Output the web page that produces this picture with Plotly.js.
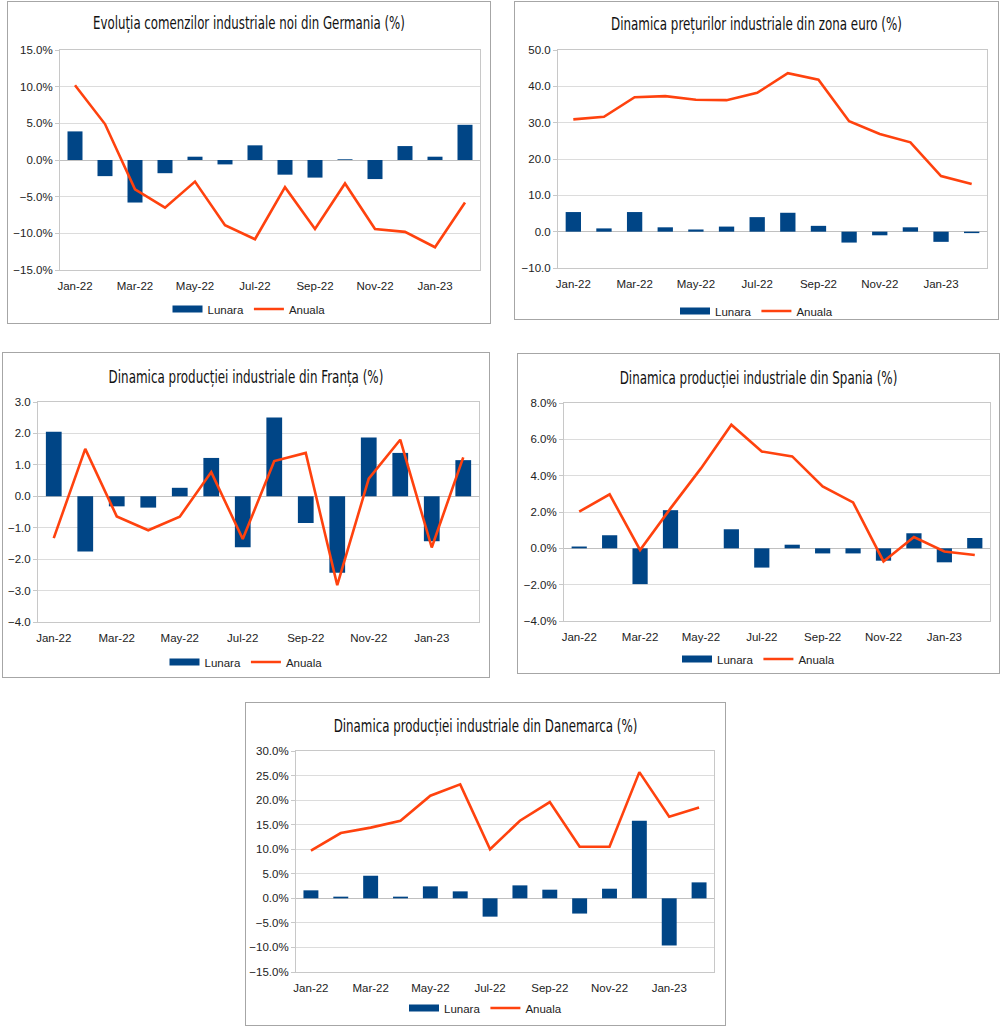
<!DOCTYPE html>
<html>
<head>
<meta charset="utf-8">
<script src="https://cdn.plot.ly/plotly-3.0.1.min.js"></script>
<style>
  html, body { margin:0; padding:0; background:#ffffff; }
  body { width:1000px; height:1026px; position:relative; overflow:hidden; }
  .box { position:absolute; box-sizing:border-box; border:1px solid #a6a6a6; background:#fff; }
  .plot { position:absolute; left:0; top:0; }
</style>
</head>
<body>
<div id="b1" class="box"><div id="p1" class="plot"></div></div>
<div id="b2" class="box"><div id="p2" class="plot"></div></div>
<div id="b3" class="box"><div id="p3" class="plot"></div></div>
<div id="b4" class="box"><div id="p4" class="plot"></div></div>
<div id="b5" class="box"><div id="p5" class="plot"></div></div>
<script>
// ---------- DATA ----------
var months = ["Jan-22","Feb-22","Mar-22","Apr-22","May-22","Jun-22","Jul-22","Aug-22","Sep-22","Oct-22","Nov-22","Dec-22","Jan-23","Feb-23"];
var tickMonths = ["Jan-22","Mar-22","May-22","Jul-22","Sep-22","Nov-22","Jan-23"];
var seriesNames = ["Lunara","Anuala"];

var titleGermany = "Evoluția comenzilor industriale noi din Germania (%)";
var germanyLunara = [3.9,-2.2,-5.8,-1.8,0.45,-0.6,2.0,-2.0,-2.4,0.1,-2.6,1.9,0.45,4.8];
var germanyAnuala = [10.2,4.9,-4.0,-6.5,-2.95,-8.9,-10.8,-3.7,-9.4,-3.2,-9.4,-9.8,-11.9,-5.8];

var titleEuro = "Dinamica prețurilor industriale din zona euro (%)";
var euroLunara = [5.4,0.9,5.4,1.2,0.6,1.4,4.0,5.2,1.6,-3.0,-1.0,1.2,-2.8,-0.4];
var euroAnuala = [30.9,31.6,37.0,37.3,36.3,36.2,38.2,43.6,41.8,30.4,26.9,24.6,15.3,13.1];

var titleFrance = "Dinamica producției industriale din Franța (%)";
var franceLunara = [2.05,-1.76,-0.32,-0.36,0.27,1.22,-1.62,2.51,-0.85,-2.43,1.87,1.38,-1.43,1.15];
var franceAnuala = [-1.33,1.51,-0.64,-1.08,-0.65,0.77,-1.36,1.12,1.38,-2.83,0.56,1.80,-1.63,1.24];

var titleSpain = "Dinamica producției industriale din Spania (%)";
var spainLunara = [0.1,0.72,-1.97,2.1,0.0,1.05,-1.06,0.2,-0.28,-0.28,-0.68,0.83,-0.77,0.57];
var spainAnuala = [2.02,2.97,-0.09,2.2,4.4,6.8,5.33,5.06,3.41,2.53,-0.72,0.62,-0.17,-0.37];

var titleDenmark = "Dinamica producției industriale din Danemarca (%)";
var denmarkLunara = [1.63,0.34,4.6,0.34,2.44,1.42,-3.73,2.64,1.76,-3.1,1.96,15.8,-9.6,3.25];
var denmarkAnuala = [9.7,13.3,14.4,15.8,20.9,23.2,10.0,15.8,19.6,10.5,10.5,25.7,16.6,18.5];

// ---------- STYLE ----------
var BLUE = "#004586", ORANGE = "#ff420e";
var TITLE_FONT = "'Liberation Sans Narrow','DejaVu Sans Condensed','Roboto Condensed','Arial Narrow','Liberation Sans',sans-serif";
var TICK_FONT = "'Liberation Sans', Arial, sans-serif";

function placeBox(id, left, top, w, h) {
  var b = document.getElementById(id);
  b.style.left = left + "px"; b.style.top = top + "px";
  b.style.width = w + "px"; b.style.height = h + "px";
}

function drawChart(cfg) {
  placeBox(cfg.box, cfg.left, cfg.top, cfg.w, cfg.h);
  var traces = [
    { type:"bar", x: months, y: cfg.lunara, name: seriesNames[0], marker:{color:BLUE}, showlegend:false, hoverinfo:"skip" },
    { type:"scatter", mode:"lines", x:[null], y:[null], name: seriesNames[0], line:{color:BLUE, width:7}, showlegend:true, hoverinfo:"skip" },
    { type:"scatter", mode:"lines", x: months, y: cfg.anuala, name: seriesNames[1], line:{color:ORANGE, width:2.6}, showlegend:true, hoverinfo:"skip" }
  ];
  var layout = {
    width: cfg.w - 2, height: cfg.h - 2,
    margin: { l: cfg.ml, r: cfg.mr, t: cfg.mt, b: cfg.mb, pad: 0 },
    paper_bgcolor: "#ffffff", plot_bgcolor: "#ffffff",
    bargap: 0.5,
    title: { text: cfg.title, x: 0.5, xref: "container", xanchor: "center",
             y: 1 - cfg.titleY / (cfg.h - 2), yref: "container", yanchor: "middle",
             font: { family: TITLE_FONT, size: 17, color: "#111" } },
    showlegend: true,
    legend: { orientation: "h", x: 0.5, xref: "container", xanchor: "center",
              y: 1 - cfg.legendY / (cfg.h - 2), yref: "container", yanchor: "middle",
              font: { family: TICK_FONT, size: 11.5, color: "#222" },
              itemwidth: 30, tracegroupgap: 0, traceorder: "normal", bgcolor: "rgba(0,0,0,0)" },
    xaxis: { type: "category", categoryorder: "array", categoryarray: months,
             range: [-0.5, months.length - 0.5],
             tickmode: "array", tickvals: tickMonths, ticktext: tickMonths,
             ticks: "outside", ticklen: 5, tickcolor: "rgba(0,0,0,0)",
             showgrid: false, showline: true, mirror: true, linecolor: "#c8c8c8", linewidth: 1,
             tickfont: { family: TICK_FONT, size: 11.5, color: "#222" }, fixedrange: true },
    yaxis: { range: cfg.range, dtick: cfg.dtick, tick0: 0, tickformat: ".1f", ticksuffix: cfg.suffix,
             ticks: "outside", ticklen: 4, tickcolor: "#c8c8c8",
             showgrid: true, gridcolor: "#dcdcdc", gridwidth: 1,
             zeroline: true, zerolinecolor: "#c0c0c0", zerolinewidth: 1,
             showline: true, mirror: true, linecolor: "#c8c8c8", linewidth: 1,
             tickfont: { family: TICK_FONT, size: 11.5, color: "#222" }, fixedrange: true }
  };
  Plotly.newPlot(cfg.plot, traces, layout, { staticPlot: true, displayModeBar: false }).then(function (gd) {
    // condense the title horizontally to the narrow width of the original heading
    var t = gd.querySelector(".gtitle");
    if (t) {
      var natural = t.getComputedTextLength();
      if (natural > cfg.titleW) {
        var s = cfg.titleW / natural;
        var cx = parseFloat(t.getAttribute("x")) || 0;
        var prev = t.getAttribute("transform") || "";
        t.setAttribute("transform", "translate(" + cx + ",0) scale(" + s + ",1) translate(" + (-cx) + ",0) " + prev);
      }
    }
  });
}

drawChart({ box:"b1", plot:"p1", left:7, top:1, w:484, h:323, ml:52, mr:10, mt:48, mb:53,
  title:titleGermany, titleY:21, titleW:312, legendY:307, lunara:germanyLunara, anuala:germanyAnuala,
  range:[-15,15], dtick:5, suffix:"%" });
drawChart({ box:"b2", plot:"p2", left:514, top:1, w:485, h:319, ml:43, mr:11, mt:48, mb:51,
  title:titleEuro, titleY:22, titleW:291, legendY:309, lunara:euroLunara, anuala:euroAnuala,
  range:[-10,50], dtick:10, suffix:"" });
drawChart({ box:"b3", plot:"p3", left:2, top:352, w:488, h:326, ml:35, mr:10, mt:49, mb:55,
  title:titleFrance, titleY:24, titleW:275, legendY:309, lunara:franceLunara, anuala:franceAnuala,
  range:[-4,3], dtick:1, suffix:"" });
drawChart({ box:"b4", plot:"p4", left:517, top:353, w:483, h:321, ml:46, mr:9, mt:49, mb:52,
  title:titleSpain, titleY:24, titleW:278, legendY:305, lunara:spainLunara, anuala:spainAnuala,
  range:[-4,8], dtick:2, suffix:"%" });
drawChart({ box:"b5", plot:"p5", left:245, top:702, w:481, h:324, ml:50, mr:11, mt:48, mb:53,
  title:titleDenmark, titleY:23, titleW:304, legendY:305, lunara:denmarkLunara, anuala:denmarkAnuala,
  range:[-15,30], dtick:5, suffix:"%" });
</script>
</body>
</html>
